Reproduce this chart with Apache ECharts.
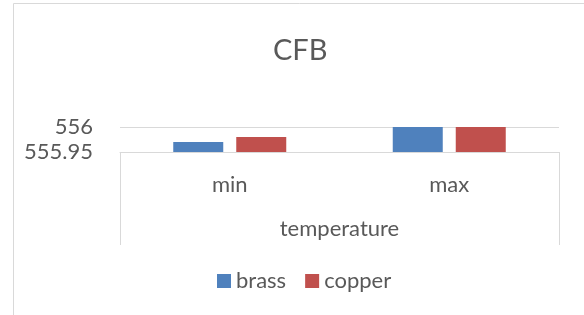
<!doctype html>
<html>
<head>
    <meta http-equiv="Content-Type" content="text/html; charset=utf-8">
    <title>CFB</title>
    <script src="https://cdn.jsdelivr.net/npm/echarts@6/dist/echarts.min.js"></script>
    <style>
        html, body { margin: 0; padding: 0; background: #fff; }
        #chart { width: 584px; height: 315px; }
    </style>
</head>
<body>
<div id="chart"></div>
<script type="text/javascript">
    var categories = ['min', 'max'];
    var groupLabel = ['temperature'];
    var brass = [555.97, 556];
    var copper = [555.98, 556];
    var yMin = 555.95, yMax = 556, yStep = 0.05;

    var textColor = '#595959';
    var lineColor = '#d9d9d9';
    var font = 'Lato';

    var myChart = echarts.init(document.getElementById('chart'));
    var option = {
        animation: false,
        title: {
            text: 'CFB',
            left: 268,
            top: 31,
            textStyle: { fontFamily: font, fontSize: 29, fontWeight: 'normal', color: textColor }
        },
        legend: {
            data: ['brass', 'copper'],
            left: 212,
            top: 265,
            itemWidth: 14,
            itemHeight: 14,
            itemGap: 19,
            icon: 'rect',
            textStyle: { fontFamily: font, fontSize: 22, color: textColor }
        },
        graphic: [{
            type: 'rect',
            shape: { x: 13.5, y: 3.5, width: 700, height: 400 },
            style: { fill: 'none', stroke: lineColor, lineWidth: 1 },
            silent: true
        }],
        grid: { left: 120, right: 25, top: 127, bottom: 163 },
        xAxis: [
            {
                type: 'category',
                data: categories,
                position: 'bottom',
                axisLine: { show: true, lineStyle: { color: lineColor } },
                axisTick: { show: false },
                axisLabel: { margin: 22, fontFamily: font, fontSize: 22, color: textColor }
            },
            {
                type: 'category',
                data: groupLabel,
                position: 'bottom',
                axisLine: { show: false },
                axisTick: { show: true, length: 93, lineStyle: { color: lineColor } },
                axisLabel: { margin: 66, fontFamily: font, fontSize: 22, color: textColor }
            }
        ],
        yAxis: {
            type: 'value',
            min: yMin,
            max: yMax,
            interval: yStep,
            axisLine: { show: false },
            axisTick: { show: false },
            splitLine: { lineStyle: { color: lineColor } },
            axisLabel: {
                margin: 27,
                fontFamily: font, fontSize: 22, color: textColor,
                formatter: function (v) { return String(+v.toFixed(2)); }
            }
        },
        series: [
            { name: 'brass', type: 'bar', data: brass, barWidth: 50, barGap: '26%', itemStyle: { color: '#4f81bd' } },
            { name: 'copper', type: 'bar', data: copper, barWidth: 50, barGap: '26%', itemStyle: { color: '#c0504d' } }
        ]
    };
    myChart.setOption(option);
</script>
</body>
</html>
